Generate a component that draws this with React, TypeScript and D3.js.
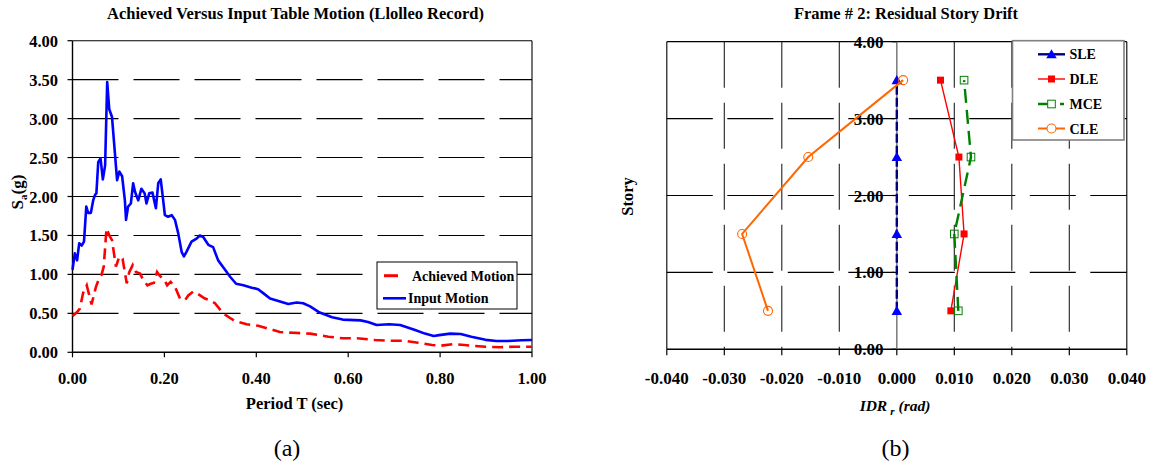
import React from "react";
import * as d3 from "d3";

// ---------- Data: chart (a) ----------
const inputT = [0, 0.005, 0.010, 0.0146, 0.020, 0.025, 0.030, 0.034, 0.040, 0.045, 0.049, 0.052, 0.056, 0.061, 0.066, 0.071, 0.0755, 0.080, 0.086, 0.097, 0.102, 0.108, 0.114, 0.1165, 0.121, 0.127, 0.132, 0.136, 0.143, 0.150, 0.157, 0.161, 0.167, 0.174, 0.1815, 0.1866, 0.192, 0.197, 0.201, 0.208, 0.216, 0.223, 0.230, 0.2375, 0.2425, 0.248, 0.259, 0.270, 0.277, 0.2845, 0.2955, 0.306, 0.317, 0.332, 0.343, 0.356, 0.372, 0.390, 0.404, 0.415, 0.430, 0.448, 0.4695, 0.488, 0.502, 0.517, 0.538, 0.565, 0.588, 0.627, 0.643, 0.662, 0.689, 0.713, 0.744, 0.767, 0.786, 0.798, 0.822, 0.845, 0.868, 0.899, 0.9225, 0.946, 0.977, 1.0];
const inputSa = [1.06, 1.27, 1.18, 1.40, 1.37, 1.42, 1.87, 1.79, 1.79, 1.95, 2.02, 2.04, 2.44, 2.49, 2.22, 2.40, 3.47, 3.12, 3.02, 2.21, 2.32, 2.26, 1.95, 1.70, 1.87, 1.91, 2.17, 2.06, 1.95, 2.10, 2.04, 1.91, 2.04, 2.05, 1.85, 2.17, 2.22, 1.97, 1.76, 1.74, 1.76, 1.70, 1.53, 1.29, 1.23, 1.29, 1.42, 1.46, 1.50, 1.48, 1.38, 1.35, 1.18, 1.06, 0.97, 0.88, 0.86, 0.83, 0.81, 0.76, 0.69, 0.66, 0.62, 0.64, 0.63, 0.59, 0.51, 0.45, 0.42, 0.41, 0.39, 0.35, 0.36, 0.35, 0.29, 0.24, 0.21, 0.22, 0.24, 0.235, 0.20, 0.16, 0.145, 0.145, 0.154, 0.158];

const achievedT = [0, 0.009, 0.016, 0.023, 0.031, 0.0415, 0.051, 0.058, 0.063, 0.068, 0.074, 0.080, 0.086, 0.0945, 0.102, 0.109, 0.118, 0.1235, 0.131, 0.138, 0.147, 0.154, 0.163, 0.170, 0.177, 0.184, 0.190, 0.199, 0.206, 0.2135, 0.223, 0.234, 0.245, 0.252, 0.263, 0.270, 0.288, 0.299, 0.310, 0.328, 0.343, 0.3535, 0.379, 0.404, 0.437, 0.451, 0.480, 0.517, 0.557, 0.588, 0.619, 0.658, 0.689, 0.7205, 0.752, 0.7825, 0.802, 0.829, 0.853, 0.876, 0.899, 0.930, 0.961, 1.0];
const achievedSa = [0.465, 0.51, 0.56, 0.76, 0.86, 0.615, 0.84, 0.95, 0.99, 1.10, 1.59, 1.50, 1.44, 1.10, 1.23, 1.20, 0.885, 1.03, 1.12, 1.03, 1.01, 0.93, 0.86, 0.88, 0.89, 1.03, 0.98, 0.94, 0.86, 0.905, 0.84, 0.69, 0.67, 0.73, 0.78, 0.76, 0.69, 0.67, 0.63, 0.50, 0.44, 0.40, 0.36, 0.34, 0.286, 0.26, 0.25, 0.24, 0.20, 0.18, 0.18, 0.158, 0.149, 0.149, 0.123, 0.094, 0.085, 0.106, 0.094, 0.081, 0.072, 0.064, 0.072, 0.072];

const leftXTicks = [0, 0.2, 0.4, 0.6, 0.8, 1.0];
const leftYTicks = [0, 0.5, 1, 1.5, 2, 2.5, 3, 3.5, 4];

// ---------- Data: chart (b) ----------
const stories = [0.5, 1.5, 2.5, 3.5];
const sleIDR = [0, 0, 0, 0];
const dleIDR = [0.0094, 0.0117, 0.0108, 0.0076];
const mceIDR = [0.0107, 0.0100, 0.0129, 0.0117];
const cleIDR = [-0.0224, -0.0269, -0.0154, 0.0011];
const rightXTicks = [-0.04, -0.03, -0.02, -0.01, 0, 0.01, 0.02, 0.03, 0.04];
const rightYTicks = [0, 1, 2, 3, 4];

const FONT = '"Liberation Serif", "Times New Roman", Times, serif';

const xL = d3.scaleLinear().domain([0, 1]).range([72.5, 532]);
const yL = d3.scaleLinear().domain([0, 4]).range([352.3, 40.7]);
const xR = d3.scaleLinear().domain([-0.04, 0.04]).range([666.8, 1126.8]);
const yR = d3.scaleLinear().domain([0, 4]).range([349.3, 41.7]);

function LeftChart() {
  const lineL = d3.line<[number, number]>().x((d) => xL(d[0])).y((d) => yL(d[1]));
  const inputPts = inputT.map((t, i) => [t, inputSa[i]] as [number, number]);
  const achPts = achievedT.map((t, i) => [t, achievedSa[i]] as [number, number]);
  const [x0, x1] = xL.range();
  return (
    <g>
      {/* grid */}
      {leftYTicks.filter((v) => v > 0 && v < 4).map((v) => (
        <line key={"g" + v} x1={x0} x2={x1} y1={yL(v)} y2={yL(v)} stroke="#000" strokeWidth={1.1} strokeDasharray="46 15" />
      ))}
      {/* border */}
      <line x1={x0} x2={x1} y1={yL(4)} y2={yL(4)} stroke="#000" strokeWidth={1.1} />
      <line x1={x1} x2={x1} y1={yL(4)} y2={yL(0)} stroke="#000" strokeWidth={1.1} />
      <line x1={x0} x2={x0} y1={yL(4)} y2={yL(0)} stroke="#000" strokeWidth={1.4} />
      <line x1={x0} x2={x1} y1={yL(0)} y2={yL(0)} stroke="#000" strokeWidth={1.4} />
      {leftYTicks.map((v) => (
        <g key={"yt" + v}>
          <line x1={x0 - 5} x2={x0} y1={yL(v)} y2={yL(v)} stroke="#000" strokeWidth={1.2} />
          <text x={58} y={yL(v) + 6} textAnchor="end" fontFamily={FONT} fontWeight="bold" fontSize={16.5}>{v.toFixed(2)}</text>
        </g>
      ))}
      {leftXTicks.map((v) => (
        <g key={"xt" + v}>
          <line x1={xL(v)} x2={xL(v)} y1={yL(0)} y2={yL(0) + 5} stroke="#000" strokeWidth={1.2} />
          <text x={xL(v)} y={384} textAnchor="middle" fontFamily={FONT} fontWeight="bold" fontSize={16.5}>{v.toFixed(2)}</text>
        </g>
      ))}
      {/* series */}
      <path d={lineL(achPts) || ""} fill="none" stroke="#FF0000" strokeWidth={2.6} strokeDasharray="11 6" />
      <path d={lineL(inputPts) || ""} fill="none" stroke="#0000FF" strokeWidth={2.6} strokeLinejoin="round" />
      {/* legend */}
      <rect x={377} y={262} width={140} height={47} fill="#fff" stroke="#000" strokeWidth={1} />
      <line x1={384} x2={398} y1={275.7} y2={275.7} stroke="#FF0000" strokeWidth={3} />
      <text x={412} y={280.5} fontFamily={FONT} fontWeight="bold" fontSize={14}>Achieved Motion</text>
      <line x1={383} x2={406} y1={298.3} y2={298.3} stroke="#0000FF" strokeWidth={2.6} />
      <text x={408} y={303} fontFamily={FONT} fontWeight="bold" fontSize={14}>Input Motion</text>
      {/* titles */}
      <text x={295.5} y={19} textAnchor="middle" fontFamily={FONT} fontWeight="bold" fontSize={16.5}>Achieved Versus Input Table Motion (Llolleo Record)</text>
      <text x={294.6} y={409} textAnchor="middle" fontFamily={FONT} fontWeight="bold" fontSize={16.5}>Period T (sec)</text>
      <text transform="translate(23,192) rotate(-90)" textAnchor="middle" fontFamily={FONT} fontWeight="bold" fontSize={17}>
        S<tspan fontSize={11} dy={4}>a</tspan><tspan dy={-4}>(g)</tspan>
      </text>
      <text x={287} y={456} textAnchor="middle" fontFamily={FONT} fontSize={24}>(a)</text>
    </g>
  );
}

function RightChart() {
  const [x0, x1] = xR.range();
  const yTop = yR(4);
  const yBot = yR(0);
  const mk = (vals: number[]) => stories.map((s, i) => [vals[i], s] as [number, number]);
  const lineR = d3.line<[number, number]>().x((d) => xR(d[0])).y((d) => yR(d[1]));
  const tri = d3.symbol().type(d3.symbolTriangle).size(48)() || "";
  const sle = mk(sleIDR), dle = mk(dleIDR), mce = mk(mceIDR), cle = mk(cleIDR);
  const legendY = [54.3, 79, 104, 128.5];
  return (
    <g>
      {/* y labels (drawn under grid) */}
      {rightYTicks.map((v) => (
        <text key={"yl" + v} x={883.5} y={yR(v) + 6} textAnchor="end" fontFamily={FONT} fontWeight="bold" fontSize={17}>{v.toFixed(2)}</text>
      ))}
      {/* horizontal grid */}
      {[1, 2, 3].map((v) => (
        <line key={"h" + v} x1={x0} x2={x1} y1={yR(v)} y2={yR(v)} stroke="#000" strokeWidth={1.1} strokeDasharray="46 14.5" />
      ))}
      {/* vertical grid */}
      {rightXTicks.filter((v) => Math.abs(v) > 1e-9 && Math.abs(v) < 0.039).map((v) => (
        <line key={"v" + v} x1={xR(v)} x2={xR(v)} y1={yTop} y2={yBot} stroke="#222" strokeWidth={1.1} strokeDasharray="46 15" />
      ))}
      {/* border */}
      <line x1={x0} x2={x1} y1={yTop} y2={yTop} stroke="#000" strokeWidth={1.2} />
      <line x1={x0} x2={x0} y1={yTop} y2={yBot} stroke="#000" strokeWidth={1.1} />
      <line x1={x1} x2={x1} y1={yTop} y2={yBot} stroke="#000" strokeWidth={1.1} />
      <line x1={x0} x2={x1} y1={yBot} y2={yBot} stroke="#000" strokeWidth={1.4} />
      {/* y axis at 0 */}
      <line x1={xR(0)} x2={xR(0)} y1={yTop} y2={yBot} stroke="#808080" strokeWidth={1.6} />
      {rightYTicks.map((v) => (
        <line key={"yt" + v} x1={xR(0) - 5} x2={xR(0)} y1={yR(v)} y2={yR(v)} stroke="#000" strokeWidth={1.2} />
      ))}
      {rightXTicks.map((v) => (
        <g key={"xt" + v}>
          <line x1={xR(v)} x2={xR(v)} y1={yBot} y2={yBot + 6} stroke="#000" strokeWidth={1.2} />
          <text x={xR(v)} y={384} textAnchor="middle" fontFamily={FONT} fontWeight="bold" fontSize={17}>{v === 0 ? "0.000" : v.toFixed(3)}</text>
        </g>
      ))}
      {/* SLE */}
      <path d={lineR(sle) || ""} fill="none" stroke="#000080" strokeWidth={2.4} strokeDasharray="9 3" />
      {sle.map((d, i) => (
        <path key={"s" + i} d={tri} transform={`translate(${xR(d[0])},${yR(d[1]) + 1})`} fill="#0000FF" />
      ))}
      {/* DLE */}
      <path d={lineR(dle) || ""} fill="none" stroke="#FF0000" strokeWidth={1.4} />
      {dle.map((d, i) => (
        <rect key={"d" + i} x={xR(d[0]) - 3.5} y={yR(d[1]) - 3.5} width={7} height={7} fill="#FF0000" />
      ))}
      {/* MCE */}
      <path d={lineR(mce) || ""} fill="none" stroke="#008000" strokeWidth={2.4} strokeDasharray="14 7" />
      {mce.map((d, i) => (
        <rect key={"m" + i} x={xR(d[0]) - 3.8} y={yR(d[1]) - 3.8} width={7.6} height={7.6} fill="none" stroke="#008000" strokeWidth={1} />
      ))}
      {/* CLE */}
      <path d={lineR(cle) || ""} fill="none" stroke="#FF6600" strokeWidth={2} />
      {cle.map((d, i) => (
        <circle key={"c" + i} cx={xR(d[0])} cy={yR(d[1])} r={4.5} fill="none" stroke="#FF6600" strokeWidth={1.1} />
      ))}
      {/* legend */}
      <rect x={1012.5} y={40.7} width={111.5} height={99.3} fill="#fff" stroke="#808080" strokeWidth={1.6} />
      <line x1={1038} x2={1065} y1={legendY[0]} y2={legendY[0]} stroke="#000080" strokeWidth={2.4} />
      <path d={tri} transform={`translate(1051.5,${legendY[0] + 1})`} fill="#0000FF" />
      <text x={1069.5} y={legendY[0] + 5} fontFamily={FONT} fontWeight="bold" fontSize={14}>SLE</text>
      <line x1={1038} x2={1065} y1={legendY[1]} y2={legendY[1]} stroke="#FF0000" strokeWidth={1.4} />
      <rect x={1048} y={legendY[1] - 3.5} width={7} height={7} fill="#FF0000" />
      <text x={1069.5} y={legendY[1] + 5} fontFamily={FONT} fontWeight="bold" fontSize={14}>DLE</text>
      <line x1={1038} x2={1065} y1={legendY[2]} y2={legendY[2]} stroke="#008000" strokeWidth={2.4} strokeDasharray="10 12 4 10" />
      <rect x={1047.7} y={legendY[2] - 3.8} width={7.6} height={7.6} fill="#fff" stroke="#008000" strokeWidth={1} />
      <text x={1069.5} y={legendY[2] + 5} fontFamily={FONT} fontWeight="bold" fontSize={14}>MCE</text>
      <line x1={1038} x2={1065} y1={legendY[3]} y2={legendY[3]} stroke="#FF6600" strokeWidth={2} />
      <circle cx={1051.5} cy={legendY[3]} r={4.5} fill="#fff" stroke="#FF6600" strokeWidth={1.1} />
      <text x={1069.5} y={legendY[3] + 5} fontFamily={FONT} fontWeight="bold" fontSize={14}>CLE</text>
      {/* titles */}
      <text x={906} y={19} textAnchor="middle" fontFamily={FONT} fontWeight="bold" fontSize={16.5}>Frame # 2: Residual Story Drift</text>
      <text transform="translate(633,196.5) rotate(-90)" textAnchor="middle" fontFamily={FONT} fontWeight="bold" fontSize={16.5}>Story</text>
      <text x={895} y={411} textAnchor="middle" fontFamily={FONT} fontWeight="bold" fontStyle="italic" fontSize={15.5}>
        IDR<tspan dx={3} dy={4} fontSize={11}>r</tspan><tspan dx={4} dy={-4}>(rad)</tspan>
      </text>
      <text x={895.4} y={456} textAnchor="middle" fontFamily={FONT} fontSize={24}>(b)</text>
    </g>
  );
}

export default function App() {
  return (
    <svg width={1151} height={465} viewBox="0 0 1151 465" style={{ position: "absolute", left: 0, top: 0, background: "#fff", display: "block" }}>
      <rect x={0} y={0} width={1151} height={465} fill="#fff" />
      <LeftChart />
      <RightChart />
    </svg>
  );
}
